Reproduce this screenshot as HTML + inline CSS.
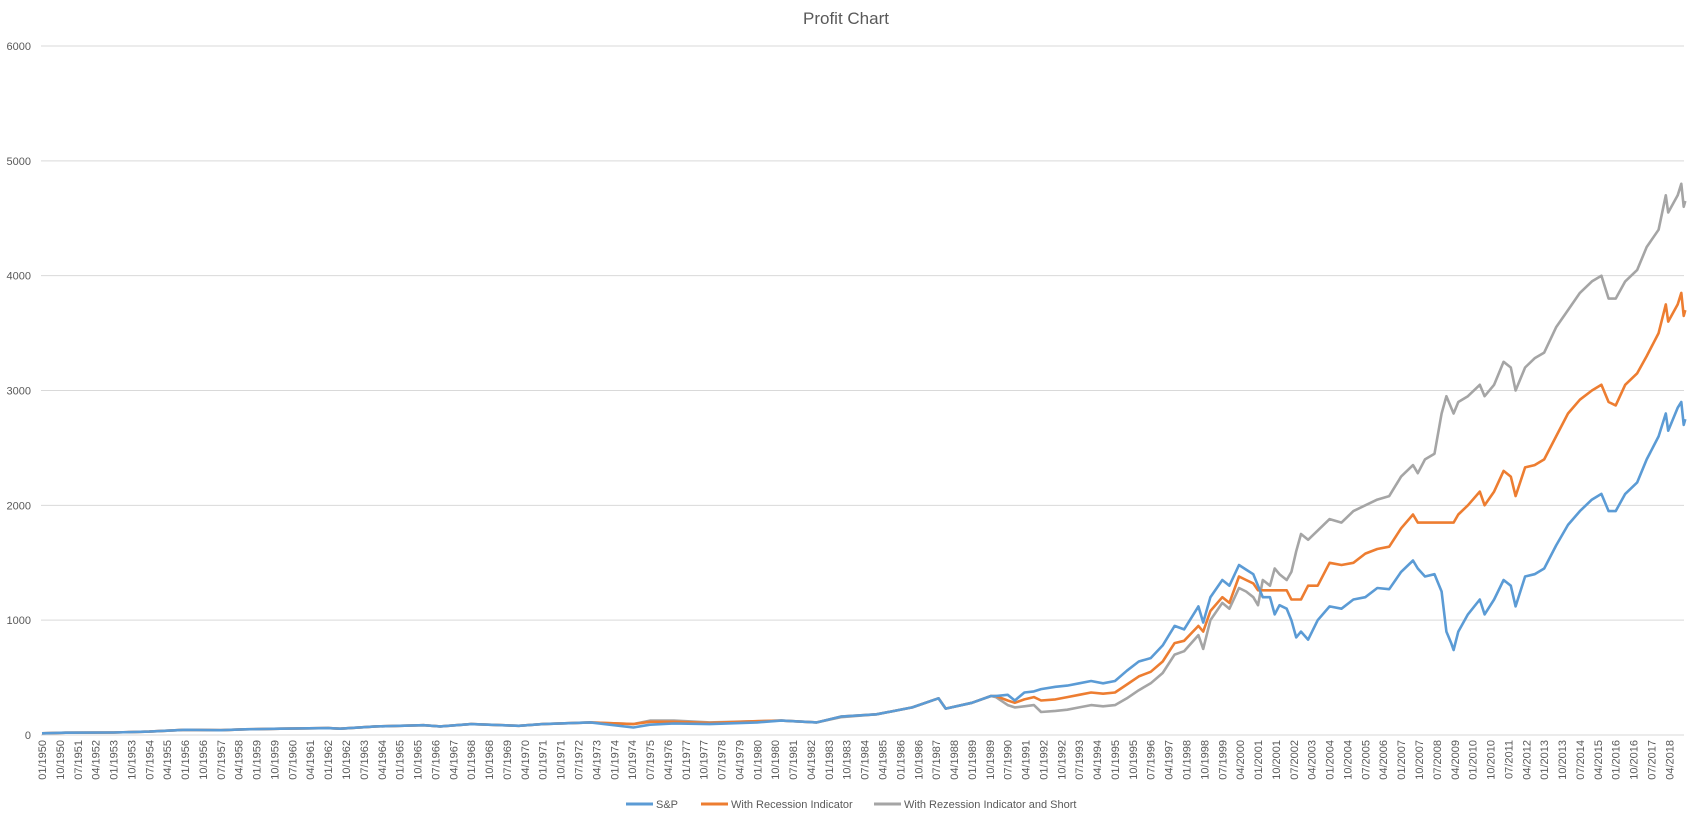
<!DOCTYPE html>
<html><head><meta charset="utf-8"><style>
body{margin:0;background:#fff;}
svg{display:block;font-family:"Liberation Sans",sans-serif;}
</style></head><body>
<svg id="chart" width="1692" height="823" viewBox="0 0 1692 823" xmlns="http://www.w3.org/2000/svg">
<text x="846" y="24" text-anchor="middle" font-size="17" fill="#595959">Profit Chart</text>
<g id="grid"></g>
<g id="yaxis"></g>
<g id="xaxis"></g>
<g id="series"></g>
<g font-size="11" fill="#595959">
<g><line x1="626" y1="804" x2="653" y2="804" stroke="#5B9BD5" stroke-width="3"/><text x="656" y="808">S&amp;P</text></g>
<g><line x1="701" y1="804" x2="728" y2="804" stroke="#ED7D31" stroke-width="3"/><text x="731" y="808">With Recession Indicator</text></g>
<g><line x1="874" y1="804" x2="901" y2="804" stroke="#A5A5A5" stroke-width="3"/><text x="904" y="808">With Rezession Indicator and Short</text></g>
</g>
</svg>
<script>
const years=[1950.0,1951,1953,1954.5,1956,1957.5,1958.5,1960,1962,1962.5,1964,1966,1966.7,1968,1970,1971,1973,1974.8,1975.5,1976.5,1978,1980,1981,1982.5,1983.5,1985,1986.5,1987.6,1987.9,1989,1989.8,1990.0,1990.5,1990.8,1991.2,1991.6,1991.9,1992.5,1993.0,1993.5,1994.0,1994.5,1995.0,1995.5,1996.0,1996.5,1997.0,1997.5,1997.9,1998.5,1998.7,1999.0,1999.5,1999.8,2000.2,2000.5,2000.8,2001.0,2001.2,2001.5,2001.7,2001.9,2002.2,2002.4,2002.6,2002.8,2003.1,2003.5,2004.0,2004.5,2005.0,2005.5,2006.0,2006.5,2007.0,2007.5,2007.7,2008.0,2008.4,2008.7,2008.9,2009.1,2009.2,2009.4,2009.8,2010.3,2010.5,2010.9,2011.3,2011.6,2011.8,2012.2,2012.6,2013.0,2013.5,2014.0,2014.5,2015.0,2015.4,2015.7,2016.0,2016.4,2016.9,2017.3,2017.8,2018.1,2018.2,2018.6,2018.75,2018.85,2018.92];
const spValues=[15,20,22,30,45,42,50,55,60,55,75,85,75,95,80,95,110,65,90,100,95,110,125,110,160,180,240,320,230,280,340,340,350,300,370,380,400,420,430,450,470,450,470,560,640,670,780,950,920,1120,980,1200,1350,1300,1480,1440,1400,1300,1200,1200,1050,1130,1100,1000,850,900,830,1000,1120,1100,1180,1200,1280,1270,1420,1520,1450,1380,1400,1250,900,800,740,900,1050,1180,1050,1180,1350,1300,1120,1380,1400,1450,1650,1830,1950,2050,2100,1950,1950,2100,2200,2400,2600,2800,2650,2850,2900,2700,2750];
const recessionValues=[15,20,22,30,45,42,50,55,60,55,75,85,75,95,80,95,110,95,115,115,105,120,125,110,160,180,240,320,230,280,340,340,300,280,310,330,300,310,330,350,370,360,370,440,510,550,640,800,820,950,900,1080,1200,1150,1380,1350,1320,1260,1260,1260,1260,1260,1260,1180,1180,1180,1300,1300,1500,1480,1500,1580,1620,1640,1800,1920,1850,1850,1850,1850,1850,1850,1850,1920,2000,2120,2000,2120,2300,2250,2080,2330,2350,2400,2600,2800,2920,3000,3050,2900,2870,3050,3150,3300,3500,3750,3600,3750,3850,3650,3700];
const shortValues=[15,20,22,30,45,42,50,55,60,55,75,85,75,95,80,95,110,95,125,125,110,120,125,110,155,180,240,320,230,280,340,330,260,240,250,260,200,210,220,240,260,250,260,320,390,450,540,700,730,870,750,1000,1150,1100,1280,1250,1200,1130,1350,1300,1450,1400,1350,1420,1600,1750,1700,1780,1880,1850,1950,2000,2050,2080,2250,2350,2280,2400,2450,2800,2950,2850,2800,2900,2950,3050,2950,3050,3250,3200,3000,3200,3280,3330,3550,3700,3850,3950,4000,3800,3800,3950,4050,4250,4400,4700,4550,4700,4800,4600,4650];
const yTicks=[0,1000,2000,3000,4000,5000,6000];
const NS='http://www.w3.org/2000/svg';
const x0=42, pxPerMonth=1.987, yBase=735, yTop=46, yMax=6000;
const xScale=yr=>x0+(yr-1950)*12*pxPerMonth;
const yScale=v=>yBase-v*(yBase-yTop)/yMax;
function mk(tag,attrs,parent){const e=document.createElementNS(NS,tag);for(const k in attrs)e.setAttribute(k,attrs[k]);parent.appendChild(e);return e;}
const grid=document.getElementById('grid'),yax=document.getElementById('yaxis'),xax=document.getElementById('xaxis'),ser=document.getElementById('series');
yTicks.forEach(t=>{
  const l=mk('line',{x1:41,x2:1684,y1:yScale(t),y2:yScale(t),stroke:'#d9d9d9','stroke-width':1},grid);
  
  
  const tx=mk('text',{x:31,y:yScale(t)+4,'text-anchor':'end','font-size':11,fill:'#595959'},yax);
  tx.textContent=t;
  
  
});
for(let m=0;m<=819;m+=9){
  const yr=1950+Math.floor(m/12), mo=(m%12)+1;
  const lab=(mo<10?'0':'')+mo+'/'+yr;
  const x=x0+m*pxPerMonth;
  const tx=mk('text',{x:0,y:0,transform:`translate(${x+4},740) rotate(-90)`,'text-anchor':'end','font-size':11,fill:'#595959'},xax);
  tx.textContent=lab;
  
  
}
[[shortValues,'#A5A5A5','line-recession-short'],[recessionValues,'#ED7D31','line-recession'],[spValues,'#5B9BD5','line-sp']].forEach(([vals,c,n])=>{
  const d=vals.map((v,i)=>(i?'L':'M')+xScale(years[i]).toFixed(1)+','+yScale(v).toFixed(1)).join('');
  const p=mk('path',{d:d,fill:'none',stroke:c,'stroke-width':2.6,'stroke-linejoin':'round'},ser);
  
  
});
</script>
</body></html>
